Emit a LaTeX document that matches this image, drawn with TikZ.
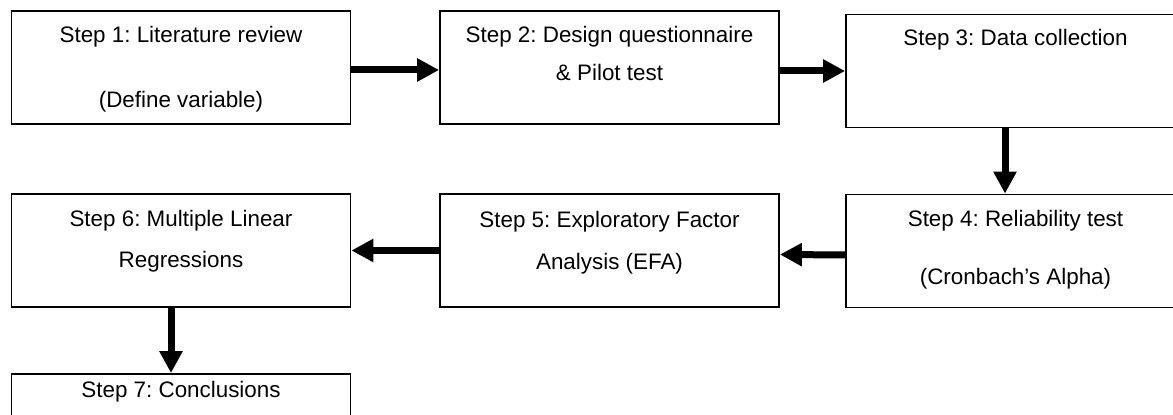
\documentclass[tikz,border=0pt]{standalone}
\usepackage{fontspec}
\setmainfont{Liberation Sans}
\usepackage{tikz}
\usetikzlibrary{positioning,arrows.meta}
\frenchspacing

\begin{document}
\begin{tikzpicture}[x=0.5pt, y=-0.5pt,
    stepbox/.style={rectangle, draw, line width=0.9pt, minimum width=169.5pt, minimum height=56.5pt, inner sep=0pt},
    steptext/.style={anchor=north, inner sep=0pt, align=center, font=\fontsize{11.2}{20}\selectfont},
    flow/.style={line width=3.5pt, -{Triangle[length=11pt, width=11pt]}}]
    \useasboundingbox (0,0) rectangle (1173,415);

    % boxes
    \node[stepbox] (s1) at (181,67.5) {};
    \node[stepbox] (s2) at (609.5,67.5) {};
    \node[stepbox] (s3) at (1015.5,71) {};
    \node[stepbox] (s4) at (1015.5,251) {};
    \node[stepbox] (s5) at (609.5,250.5) {};
    \node[stepbox] (s6) at (181,250.5) {};
    \node[stepbox] (s7) at (181,430.5) {};

    % texts
    \node[steptext, below=8pt of s1.north] (t1) {Step 1: Literature review\\[12.5pt](Define variable)};
    \node[steptext, below=8pt of s2.north] (t2) {Step 2: Design questionnaire\\[-1pt]\& Pilot test};
    \node[steptext, below=7.5pt of s3.north] (t3) {Step 3: Data collection};
    \node[steptext, below=8pt of s4.north] (t4) {Step 4: Reliability test\\[9pt](Cronbach’s Alpha)};
    \node[steptext, below=9pt of s5.north] (t5) {Step 5: Exploratory Factor\\[1pt]Analysis (EFA)};
    \node[steptext, below=8.5pt of s6.north] (t6) {Step 6: Multiple Linear\\[0.5pt]Regressions};
    \node[steptext, below=4pt of s7.north] (t7) {Step 7: Conclusions};

    % arrows
    \draw[flow] ([yshift=-1.25pt]s1.east) -- ([yshift=-1.25pt]s2.west);
    \draw[flow] (s2.east |- s3.west) -- (s3.west);
    \draw[flow] ([xshift=-5.25pt]s3.south) -- ([xshift=-5.25pt]s4.north);
    \draw[flow] ([yshift=-2pt]s4.west) -- ([yshift=-2pt]s5.east);
    \draw[flow] (s5.west) -- (s6.east);
    \draw[flow] ([xshift=-5pt]s6.south) -- ([xshift=-5pt]s7.north);
\end{tikzpicture}
\end{document}
